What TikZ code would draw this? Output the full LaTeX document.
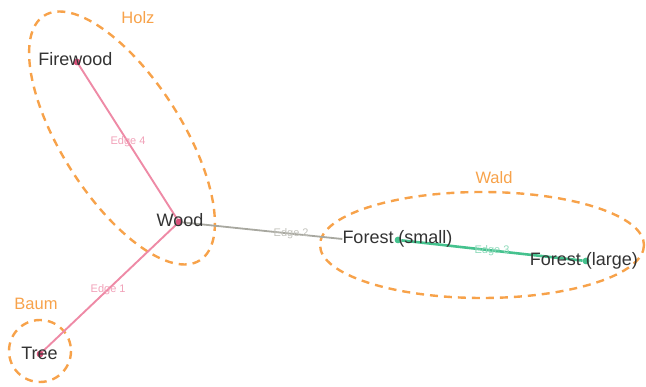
\documentclass[tikz,border=0pt]{standalone}
\usepackage{fontspec}
\setmainfont{Liberation Sans}
\definecolor{grporange}{HTML}{F7A24A}
\definecolor{edgepink}{HTML}{EE8AA6}
\definecolor{dotpink}{HTML}{D9507A}
\definecolor{edgegray}{HTML}{A8A8A0}
\definecolor{edgegreen}{HTML}{45C28E}
\definecolor{txtdark}{HTML}{333333}
\begin{document}
\begin{tikzpicture}[x=1pt,y=-1pt,
  grp/.style={draw=grporange,line width=2.4pt,dash pattern=on 8pt off 6pt},
  grplabel/.style={text=grporange,font=\fontsize{16.5}{19}\selectfont},
  vlabel/.style={text=txtdark,font=\fontsize{18}{20}\selectfont,inner sep=0pt},
  elabel/.style={font=\fontsize{11}{12}\selectfont,inner sep=1pt},
  vdot/.style={circle,inner sep=0pt,minimum size=6.5pt},
  pinkedge/.style={draw=edgepink,line width=1.9pt},
  grayedge/.style={draw=edgegray,line width=1.8pt},
  greenedge/.style={draw=edgegreen,line width=2.6pt}]
\useasboundingbox (0,0) rectangle (646,387);
% groups
\draw[grp,rotate around={-57.5:(122,138)}] (122,138) ellipse [x radius=145, y radius=60];
\draw[grp] (482,245) ellipse [x radius=162, y radius=53];
\draw[grp] (40,351) circle [radius=31];
\node[grplabel] (holz) at (138,18) {Holz};
\node[grplabel] (wald) at (494,178) {Wald};
\node[grplabel] (baum) at (36,304) {Baum};
% vertices (dots)
\node[vdot,fill=dotpink] (fw) at (77,62) {};
\node[vdot,fill=dotpink] (wd) at (179,222) {};
\node[vdot,fill=dotpink] (tr) at (40,354) {};
\node[vdot,fill=edgegreen] (fs) at (398,240) {};
\node[vdot,fill=edgegreen] (fl) at (586,261) {};
% vertex label positions
\coordinate (fwl) at (75.5,59);
\coordinate (wdl) at (180,220);
\coordinate (trl) at (39.5,353);
\coordinate (fsl) at (397.5,239);
\coordinate (fll) at (584,261);
\node[vlabel,opacity=0] (fslbox) at (fsl) {Forest (small)};
% edges
\draw[pinkedge] (fw) -- node[elabel,text=edgepink!80,pos=0.5] {Edge 4} (wd);
\draw[pinkedge] (tr) -- node[elabel,text=edgepink!80,pos=0.49] {Edge 1} (wd);
\draw[grayedge] (wd) -- node[elabel,text=edgegray!70,pos=0.68] {Edge 2} (fslbox.west);
\draw[greenedge] (fs) -- node[elabel,text=edgegreen!60,pos=0.5] {Edge 3} (fl);
% dots and labels on top
\node[vdot,fill=dotpink] at (fw) {};
\node[vdot,fill=dotpink] at (wd) {};
\node[vdot,fill=dotpink] at (tr) {};
\node[vdot,fill=edgegreen] at (fs) {};
\node[vdot,fill=edgegreen] at (fl) {};
\node[vlabel] (firewood) at (fwl) {Firewood};
\node[vlabel] (wood) at (wdl) {Wood};
\node[vlabel] (tree) at (trl) {Tree};
\node[vlabel] (forestsmall) at (fsl) {Forest (small)};
\node[vlabel] (forestlarge) at (fll) {Forest (large)};
\end{tikzpicture}
\end{document}
